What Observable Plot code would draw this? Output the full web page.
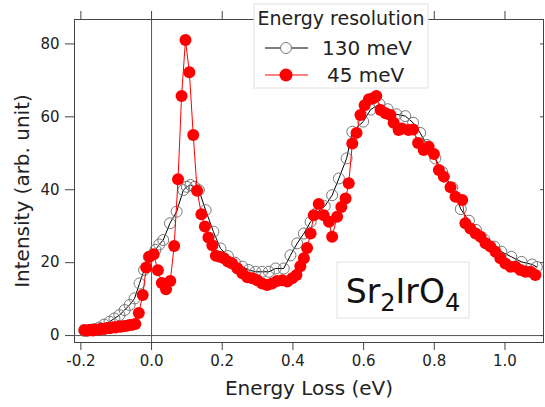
<!DOCTYPE html>
<html>
<head>
<meta charset="utf-8">
<script src="https://cdn.jsdelivr.net/npm/d3@7"></script>
<script src="https://cdn.jsdelivr.net/npm/@observablehq/plot@0.6"></script>
<style>
  html, body { margin: 0; padding: 0; background: white; }
  svg { display: block; }
</style>
</head>
<body>
<div id="chart"></div>
<script>
// ---- data ----
const energy130 = [-0.190,-0.176,-0.162,-0.148,-0.134,-0.119,-0.105,-0.091,-0.076,-0.062,-0.048,-0.034,-0.021,-0.008,0.011,0.022,0.033,0.052,0.071,0.090,0.100,0.110,0.122,0.134,0.153,0.175,0.195,0.216,0.236,0.257,0.275,0.294,0.313,0.332,0.351,0.374,0.393,0.412,0.431,0.450,0.469,0.490,0.511,0.530,0.552,0.568,0.599,0.620,0.645,0.668,0.693,0.718,0.740,0.760,0.779,0.803,0.822,0.851,0.875,0.898,0.918,0.942,0.970,0.990,1.018,1.047,1.077,1.090];
const intensity130 = [1.3,1.5,1.8,2.2,3.0,3.8,4.7,5.6,7.0,8.4,10.2,14.3,18.0,21.6,23.5,25.0,26.2,30.8,34.0,39.9,40.8,41.3,40.8,39.9,34.4,28.5,23.9,21.8,20.0,18.9,18.0,17.5,17.5,17.5,18.4,18.4,22.0,25.3,28.0,31.2,33.8,35.5,38.5,43.1,48.6,55.9,58.7,62.0,63.5,62.1,60.7,60.2,58.4,55.6,52.3,48.6,44.9,40.6,34.7,31.5,29.0,26.3,24.4,23.0,21.6,20.2,19.5,18.8];

const energy45 = [-0.190,-0.182,-0.174,-0.166,-0.158,-0.150,-0.142,-0.134,-0.126,-0.118,-0.110,-0.102,-0.094,-0.086,-0.078,-0.070,-0.062,-0.054,-0.046,-0.036,-0.025,-0.015,-0.006,0.006,0.018,0.029,0.041,0.053,0.064,0.075,0.085,0.096,0.107,0.118,0.129,0.141,0.151,0.161,0.172,0.182,0.193,0.205,0.216,0.228,0.243,0.257,0.271,0.285,0.299,0.313,0.327,0.341,0.355,0.370,0.384,0.398,0.410,0.421,0.431,0.440,0.450,0.459,0.473,0.487,0.502,0.511,0.525,0.537,0.549,0.558,0.568,0.580,0.591,0.603,0.615,0.627,0.636,0.648,0.662,0.676,0.685,0.699,0.708,0.727,0.740,0.754,0.770,0.784,0.799,0.813,0.827,0.846,0.860,0.879,0.888,0.902,0.917,0.931,0.945,0.959,0.973,0.987,1.001,1.016,1.030,1.044,1.058,1.072,1.086];
const intensity45 = [1.5,1.3,1.6,1.4,1.7,1.6,1.9,1.8,2.1,2.0,2.3,2.2,2.5,2.4,2.6,2.7,2.9,3.0,3.2,6.2,11.1,18.7,21.6,22.3,17.9,14.4,12.7,15.0,24.6,42.9,65.7,81.1,72.2,55.0,39.7,33.3,29.9,26.9,24.8,21.9,21.6,21.2,20.3,19.8,18.4,17.1,16.0,15.7,15.2,14.3,13.9,14.3,15.0,15.2,14.8,15.7,16.6,19.0,21.2,24.0,28.0,33.0,36.1,33.0,31.2,27.1,32.6,35.3,37.6,41.8,52.7,55.6,60.5,63.2,64.8,65.1,65.7,61.9,61.0,60.5,58.4,56.4,56.8,56.4,56.5,52.8,50.9,51.8,49.8,45.4,43.6,40.7,38.1,37.2,30.8,29.4,28.0,27.1,25.3,24.4,23.0,21.2,19.8,18.9,18.9,18.0,17.5,17.5,16.6];

const xTicks = [-0.2, 0.0, 0.2, 0.4, 0.6, 0.8, 1.0];
const yTicks = [0, 20, 40, 60, 80];
const seriesNames = ["130 meV", "45 meV"];
const legendTitle = "Energy resolution";
const xLabel = "Energy Loss (eV)";
const yLabel = "Intensity (arb. unit)";

// ---- build tables ----
const data130 = energy130.map((e, i) => ({e, v: intensity130[i]}));
const data45 = energy45.map((e, i) => ({e, v: intensity45[i]}));

const xDomain = [-0.218, 1.109];
const yDomain = [-1.9, 86.7];
const W = 545, H = 407, mL = 74, mR = 2, mT = 19, mB = 65;
const xPerPx = (xDomain[1] - xDomain[0]) / (W - mL - mR);

const font = "DejaVu Sans, Verdana, sans-serif";

const chart = Plot.plot({
  width: W, height: H,
  marginLeft: mL, marginRight: mR, marginTop: mT, marginBottom: mB,
  style: {fontFamily: font, fontSize: "15px", color: "#222", background: "white", overflow: "visible"},
  x: {domain: xDomain},
  y: {domain: yDomain},
  marks: [
    Plot.ruleY([0], {stroke: "#555", strokeWidth: 1}),
    Plot.ruleX([0], {stroke: "#555", strokeWidth: 1}),
    Plot.line(data130, {x: "e", y: "v", stroke: "black", strokeWidth: 1}),
    Plot.dot(data130, {x: "e", y: "v", r: 5.5, stroke: "#777", fill: "none", strokeWidth: 1}),
    Plot.line(data45, {x: "e", y: "v", stroke: "#f00", strokeWidth: 1}),
    Plot.dot(data45, {x: "e", y: "v", r: 6, fill: "#f00", stroke: "none"}),
    Plot.frame({stroke: "#444", strokeWidth: 1}),
    Plot.axisX({ticks: xTicks, tickFormat: d => d.toFixed(1), tickSize: 8, tickPadding: 5, label: null, fontSize: 15, stroke: "#444"}),
    Plot.axisX({anchor: "top", ticks: xTicks, tickFormat: () => "", tickSize: 9, label: null, stroke: "#444"}),
    Plot.axisY({ticks: yTicks, tickSize: 9, tickPadding: 6, label: null, fontSize: 15, stroke: "#444"}),
    Plot.ruleY(yTicks, {x1: xDomain[1] - 3 * xPerPx, x2: xDomain[1], stroke: "#444"}),
    Plot.text([xLabel], {frameAnchor: "bottom", dy: 52, fontSize: 20, fill: "#222"}),
    Plot.text([yLabel], {frameAnchor: "left", dx: -52, dy: 10, rotate: -90, textAnchor: "middle", fontSize: 20, fill: "#222"})
  ]
});

document.getElementById("chart").appendChild(chart);

// ---- legend ----
const svg = d3.select(chart);
const lg = svg.append("g").attr("font-family", font).attr("fill", "#222");
lg.append("rect").attr("x", 254).attr("y", 4).attr("width", 174).attr("height", 84)
  .attr("fill", "white").attr("stroke", "#e2e2e2");
lg.append("text").attr("x", 341).attr("y", 25).attr("text-anchor", "middle")
  .attr("font-size", 19).text(legendTitle);
// row 1
lg.append("line").attr("x1", 265).attr("x2", 308).attr("y1", 48).attr("y2", 48)
  .attr("stroke", "black").attr("stroke-width", 1);
lg.append("circle").attr("cx", 286).attr("cy", 48).attr("r", 5.5)
  .attr("fill", "white").attr("stroke", "#777");
lg.append("text").attr("x", 322).attr("y", 55).attr("text-anchor", "start")
  .attr("font-size", 20).text(seriesNames[0]);
// row 2
lg.append("line").attr("x1", 265).attr("x2", 308).attr("y1", 75).attr("y2", 75)
  .attr("stroke", "#f00").attr("stroke-width", 1);
lg.append("circle").attr("cx", 286).attr("cy", 75).attr("r", 6.5).attr("fill", "#f00");
lg.append("text").attr("x", 327).attr("y", 82).attr("text-anchor", "start")
  .attr("font-size", 20).text(seriesNames[1]);

// ---- compound label ----
const cb = svg.append("g").attr("font-family", font);
cb.append("rect").attr("x", 337).attr("y", 262).attr("width", 132).attr("height", 56)
  .attr("fill", "white").attr("stroke", "#e2e2e2");
const t = cb.append("text").attr("x", 403).attr("y", 303).attr("text-anchor", "middle")
  .attr("font-size", 33).attr("fill", "#111");
t.append("tspan").text("Sr");
t.append("tspan").attr("font-size", 24).attr("dy", 8).text("2");
t.append("tspan").attr("dy", -8).text("IrO");
t.append("tspan").attr("font-size", 24).attr("dy", 8).text("4");
</script>
</body>
</html>
